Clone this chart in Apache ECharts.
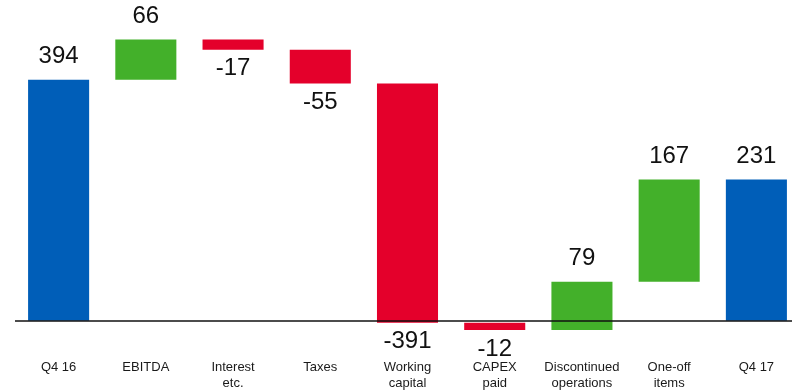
<!DOCTYPE html>
<html>
<head>
<meta charset="utf-8">
<script src="https://cdn.jsdelivr.net/npm/echarts@6/dist/echarts.min.js"></script>
<style>
  html, body { margin: 0; padding: 0; background: #ffffff; }
  #chart { width: 792px; height: 390px; }
</style>
</head>
<body>
<div id="chart"></div>
<script>
// Net debt bridge, Q4 16 to Q4 17
const categories = ['Q4 16', 'EBITDA', 'Interest\netc.', 'Taxes', 'Working\ncapital',
                    'CAPEX\npaid', 'Discontinued\noperations', 'One-off\nitems', 'Q4 17'];
// 'total' bars start at zero; 'delta' bars float from the running total
const kinds  = ['total', 'delta', 'delta', 'delta', 'delta', 'delta', 'delta', 'delta', 'total'];
const values = [394, 66, -17, -55, -391, -12, 79, 167, 231];

const COLORS = { total: '#005EB8', up: '#43B02A', down: '#E4002B' };

// Build [index, low, high, value, colourKey] rows from the running total
const rows = [];
let running = 0;
values.forEach(function (v, i) {
  let lo, hi, key;
  if (kinds[i] === 'total') {
    lo = Math.min(0, v); hi = Math.max(0, v); key = 'total';
    running = v;
  } else {
    const next = running + v;
    lo = Math.min(running, next); hi = Math.max(running, next);
    key = v >= 0 ? 'up' : 'down';
    running = next;
  }
  rows.push([i, lo, hi, v, key]);
});

const chart = echarts.init(document.getElementById('chart'), null, { renderer: 'canvas' });

chart.setOption({
  animation: false,
  grid: {
    left: 15, top: 15, width: 785, height: 336.4,
    containLabel: false,
    outerBoundsMode: 'none'
  },
  xAxis: {
    type: 'category',
    data: categories,
    axisLine: { show: false },
    axisTick: { show: false },
    axisLabel: {
      interval: 0,
      fontFamily: 'Liberation Sans, Arial, sans-serif',
      fontSize: 13,
      color: '#1a1a1a',
      lineHeight: 16,
      verticalAlign: 'top',
      margin: 8
    }
  },
  yAxis: {
    type: 'value',
    min: -50,
    max: 500,
    show: false,
    splitLine: { show: false }
  },
  series: [
    {
      type: 'custom',
      data: rows,
      clip: false,
      encode: { x: 0, y: [1, 2] },
      renderItem: function (params, api) {
        const i = api.value(0);
        const lo = api.value(1);
        const hi = api.value(2);
        const v = api.value(3);
        const key = rows[params.dataIndex][4];
        const top = api.coord([i, hi]);
        const bottom = api.coord([i, lo]);
        const w = api.size([1, 0])[0] * 0.7;
        const positive = v >= 0;
        return {
          type: 'group',
          children: [
            {
              type: 'rect',
              shape: { x: top[0] - w / 2, y: top[1], width: w, height: Math.max(1, bottom[1] - top[1]) },
              style: { fill: COLORS[key] }
            },
            {
              type: 'text',
              style: {
                text: String(v),
                x: top[0],
                y: positive ? top[1] - 23 : bottom[1] + 19,
                align: 'center',
                verticalAlign: 'middle',
                fontFamily: 'Liberation Sans, Arial, sans-serif',
                fontSize: 24,
                fill: '#111111'
              }
            }
          ]
        };
      },
      z: 2
    },
    {
      // zero line
      type: 'line',
      data: [],
      markLine: {
        silent: true,
        symbol: 'none',
        label: { show: false },
        lineStyle: { color: '#111111', width: 1.5, type: 'solid' },
        data: [{ yAxis: 0 }]
      },
      z: 3
    }
  ]
});
</script>
</body>
</html>
